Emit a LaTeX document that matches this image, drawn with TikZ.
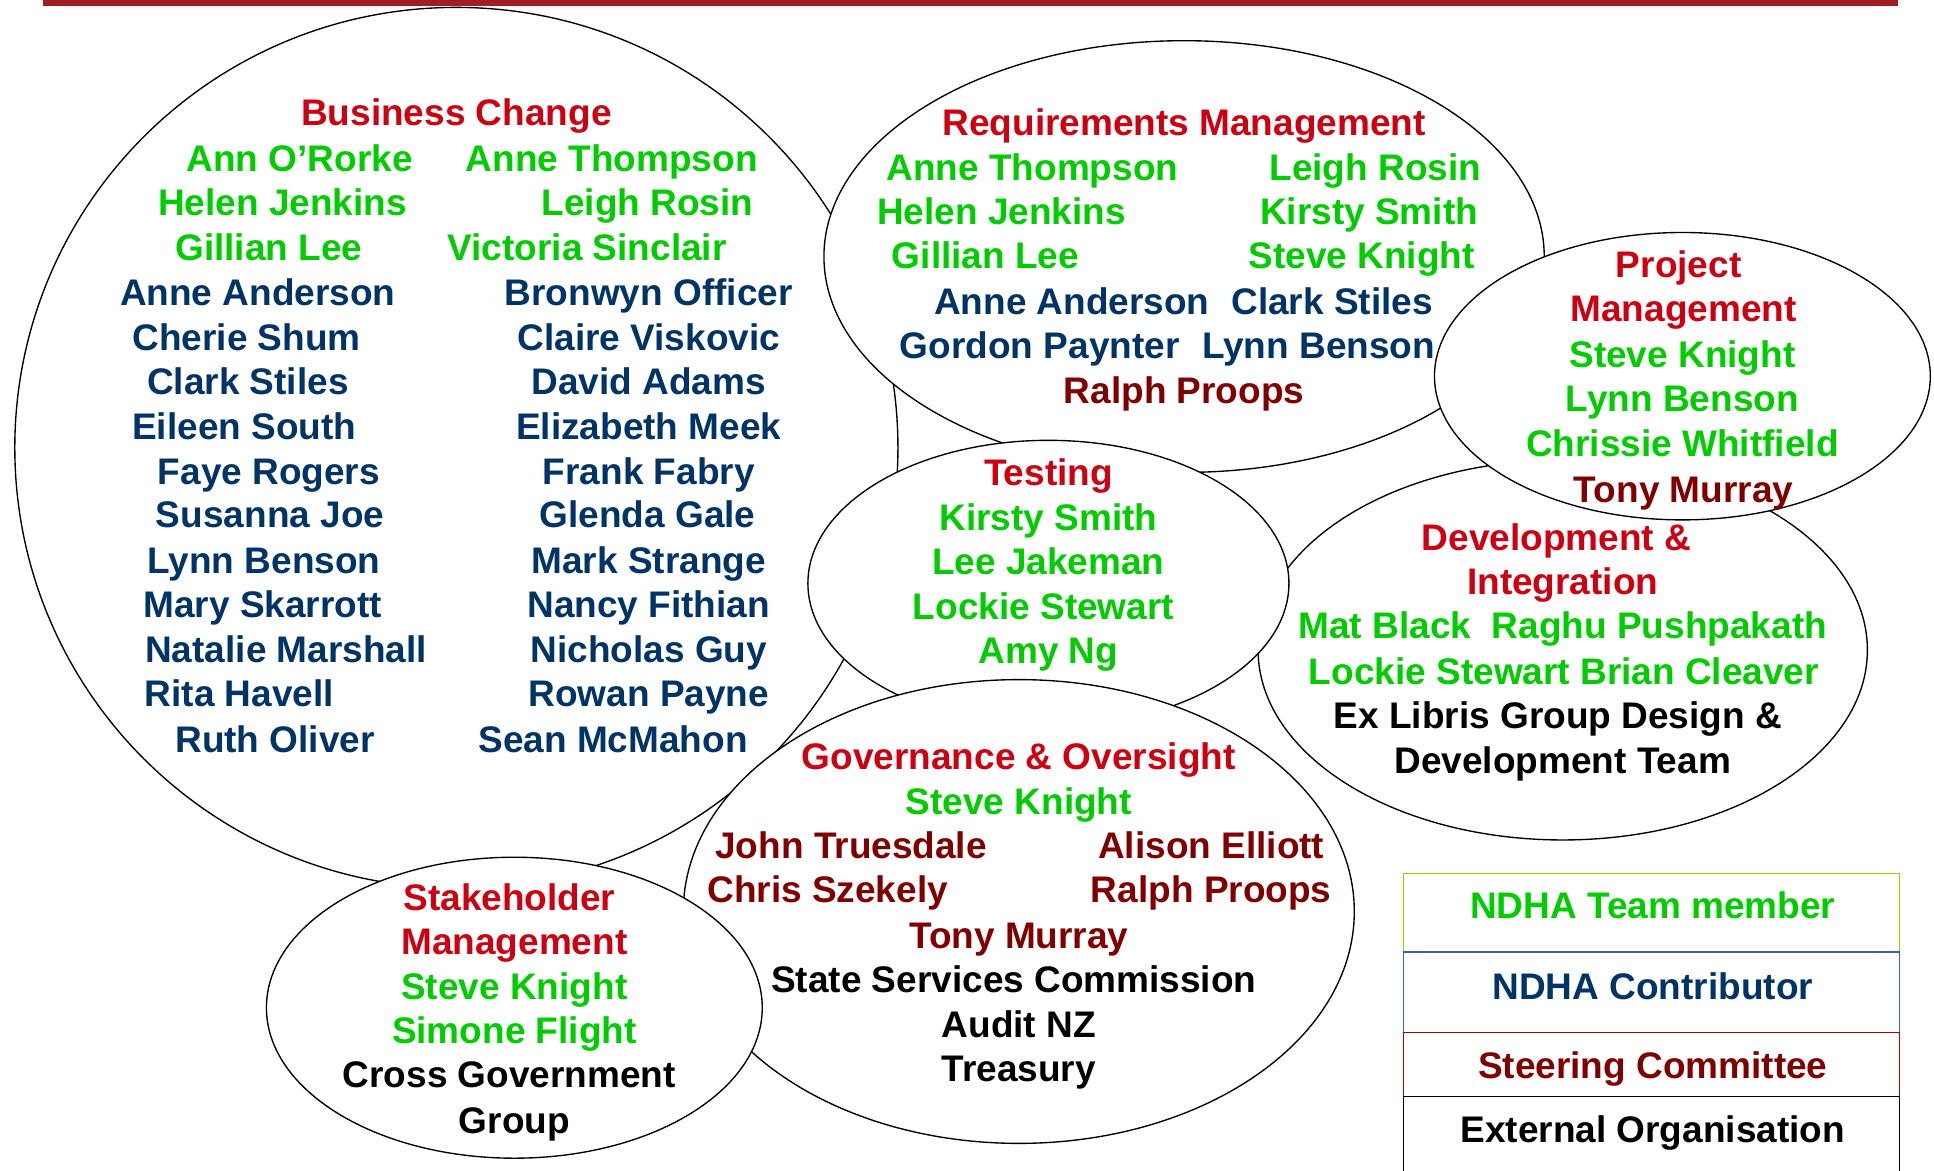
\documentclass[tikz,border=0pt]{standalone}
\usepackage{fontspec}
\setmainfont{Liberation Sans}
\usetikzlibrary{shapes.geometric}
\definecolor{headred}{RGB}{204,0,17}
\definecolor{teamgreen}{RGB}{0,204,0}
\definecolor{contribnavy}{RGB}{0,51,102}
\definecolor{steermaroon}{RGB}{128,0,0}
\definecolor{barred}{RGB}{160,30,34}
\definecolor{keylime}{RGB}{153,204,0}
\definecolor{keyblue}{RGB}{51,102,153}
\definecolor{keyred}{RGB}{176,0,0}

\begin{document}
\begin{tikzpicture}[x=1pt, y=-1pt,
  area/.style={ellipse, draw, fill=white, line width=1.1pt, inner sep=0pt, outer sep=0pt},
  lbl/.style={anchor=base, yshift=-10pt, inner sep=0pt, font=\fontsize{30}{36}\selectfont\bfseries},
  head/.style={lbl, text=headred},
  team/.style={lbl, text=teamgreen},
  contrib/.style={lbl, text=contribnavy},
  steer/.style={lbl, text=steermaroon},
  extorg/.style={lbl, text=black},
  keybox/.style={draw, line width=1.2pt, minimum width=402pt, inner sep=0pt, outer sep=0pt, anchor=north west}
]
  \useasboundingbox (0,0) rectangle (1568,949);
  \fill[barred] (35,0) rectangle (1539,5);

  % Business Change
  \node[area, minimum width=716pt, minimum height=714pt] (bc) at (370,363) {};
  \node[head] (bc-title) at (370,92) {Business Change};
  \foreach \x/\y/\who [count=\i] in {243/129/Ann O’Rorke, 229/165/Helen Jenkins, 218/201/Gillian Lee,
      496/129/Anne Thompson, 525/165/Leigh Rosin, 476/201/Victoria Sinclair}
    \node[team] (bc-t\i) at (\x,\y) {\who};
  \foreach \x/\y/\who [count=\i] in {209/238/Anne Anderson, 200/274/Cherie Shum, 201/310/Clark Stiles,
      198/346/Eileen South, 218/383/Faye Rogers, 219/418/Susanna Joe, 214/455/Lynn Benson,
      213/491/Mary Skarrott, 232/527/Natalie Marshall, 194/563/Rita Havell, 223/600/Ruth Oliver}
    \node[contrib] (bc-l\i) at (\x,\y) {\who};
  \foreach \x/\y/\who [count=\i] in {526/238/Bronwyn Officer, 526/274/Claire Viskovic, 526/310/David Adams,
      526/346/Elizabeth Meek, 526/383/Frank Fabry, 525/418/Glenda Gale, 526/455/Mark Strange,
      526/491/Nancy Fithian, 526/527/Nicholas Guy, 526/563/Rowan Payne, 497/600/Sean McMahon}
    \node[contrib] (bc-r\i) at (\x,\y) {\who};

  % Requirements Management
  \node[area, minimum width=584pt, minimum height=350pt] (rm) at (960,208) {};
  \node[head] (rm-title) at (960,100) {Requirements Management};
  \foreach \x/\y/\who [count=\i] in {837/136/Anne Thompson, 812/172/Helen Jenkins, 799/208/Gillian Lee,
      1115/136/Leigh Rosin, 1110/172/Kirsty Smith, 1104/208/Steve Knight}
    \node[team] (rm-t\i) at (\x,\y) {\who};
  \foreach \x/\y/\who [count=\i] in {869/245/Anne Anderson, 1080/245/Clark Stiles,
      843/281/Gordon Paynter, 1069/281/Lynn Benson}
    \node[contrib] (rm-c\i) at (\x,\y) {\who};
  \node[steer] (rm-s1) at (960,317) {Ralph Proops};

  % Development & Integration
  \node[area, minimum width=494pt, minimum height=308pt] (di) at (1267,527) {};
  \node[head] (di-title1) at (1262,436) {Development \&};
  \node[head] (di-title2) at (1267,472) {Integration};
  \node[team] (di-t1) at (1267,508) {Mat Black\ \ Raghu Pushpakath};
  \node[team] (di-t2) at (1268,545) {Lockie Stewart Brian Cleaver};
  \node[extorg] (di-e1) at (1263,581) {Ex Libris Group Design \&};
  \node[extorg] (di-e2) at (1267,617) {Development Team};

  % Project Management
  \node[area, minimum width=402pt, minimum height=233pt] (pm) at (1364,305) {};
  \node[head] (pm-title1) at (1361,215) {Project};
  \node[head] (pm-title2) at (1365,251) {Management};
  \foreach \y/\who [count=\i] in {288/Steve Knight, 324/Lynn Benson, 360/Chrissie Whitfield}
    \node[team] (pm-t\i) at (1364,\y) {\who};
  \node[steer] (pm-s1) at (1365,397) {Tony Murray};

  % Testing
  \node[area, minimum width=390pt, minimum height=232pt] (tst) at (850,473) {};
  \node[head] (tst-title) at (850,384) {Testing};
  \foreach \x/\y/\who [count=\i] in {850/420/Kirsty Smith, 850/456/Lee Jakeman,
      846/492/Lockie Stewart, 850/528/Amy Ng}
    \node[team] (tst-t\i) at (\x,\y) {\who};

  % Governance & Oversight
  \node[area, minimum width=544pt, minimum height=376pt] (gov) at (826,739) {};
  \node[head] (gov-title) at (826,614) {Governance \& Oversight};
  \node[team] (gov-t1) at (826,650) {Steve Knight};
  \foreach \x/\y/\who [count=\i] in {690/686/John Truesdale, 982/686/Alison Elliott,
      671/722/Chris Szekely, 982/722/Ralph Proops, 826/759/Tony Murray}
    \node[steer] (gov-s\i) at (\x,\y) {\who};
  \foreach \x/\y/\who [count=\i] in {822/795/State Services Commission, 826/831/Audit NZ, 826/867/Treasury}
    \node[extorg] (gov-e\i) at (\x,\y) {\who};

  % Stakeholder Management
  \node[area, minimum width=402pt, minimum height=244pt] (sh) at (417,817) {};
  \node[head] (sh-title1) at (413,728) {Stakeholder};
  \node[head] (sh-title2) at (417,764) {Management};
  \node[team] (sh-t1) at (417,800) {Steve Knight};
  \node[team] (sh-t2) at (417,836) {Simone Flight};
  \node[extorg] (sh-e1) at (413,872) {Cross Government};
  \node[extorg] (sh-e2) at (417,909) {Group};

  % key
  \node[keybox, draw=keylime, minimum height=64pt] (key-team) at (1138,708) {};
  \node[keybox, draw=keyblue, minimum height=65pt] (key-contrib) at (1138,772) {};
  \node[keybox, draw=keyred, minimum height=52pt] (key-steer) at (1138,837) {};
  \draw[line width=1.2pt] (1138,949) |- (1540,889) -- (1540,949);
  \node[team] (key-team-t) at (1340,735) {NDHA Team member};
  \node[contrib] (key-contrib-t) at (1340,800) {NDHA Contributor};
  \node[steer] (key-steer-t) at (1340,864) {Steering Committee};
  \node[extorg] (key-ext-t) at (1340,916) {External Organisation};
\end{tikzpicture}
\end{document}
